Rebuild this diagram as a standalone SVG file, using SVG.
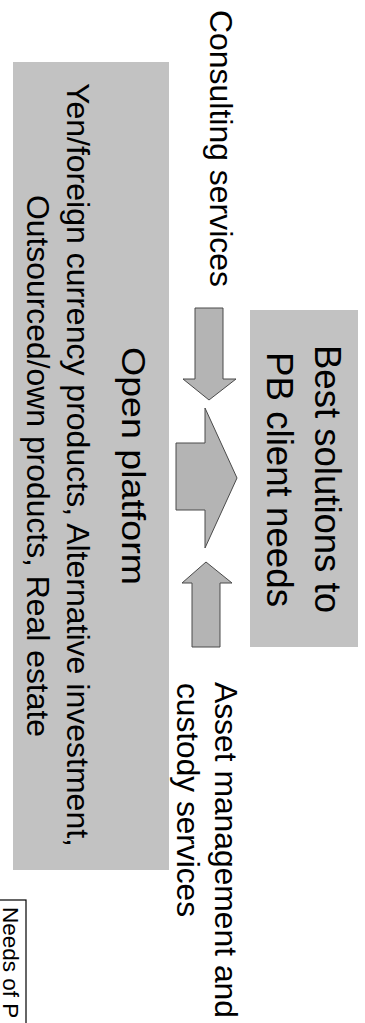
<svg xmlns="http://www.w3.org/2000/svg" width="365" height="1023" viewBox="0 0 365 1023">
  <style>
    .box { fill: #c2c2c2; stroke: none; }
    .arrow { fill: #b4b4b4; stroke: #4a4a4a; stroke-width: 1; stroke-linejoin: miter; }
    .t { font-family: "Liberation Sans", Arial, sans-serif; fill: #000; }
  </style>
  <rect width="365" height="1023" fill="#fff"/>

  <g id="open-platform">
    <rect class="box" x="13" y="62" width="156" height="808"/>
    <text class="t" font-size="34" transform="translate(122,347) rotate(90)" textLength="238" lengthAdjust="spacingAndGlyphs">Open platform</text>
    <text class="t" font-size="32" transform="translate(67,83) rotate(90)" textLength="764" lengthAdjust="spacingAndGlyphs">Yen/foreign currency products, Alternative investment,</text>
    <text class="t" font-size="32" transform="translate(27,195) rotate(90)" textLength="542" lengthAdjust="spacingAndGlyphs">Outsourced/own products, Real estate</text>
  </g>

  <g id="best-solutions">
    <rect class="box" x="250" y="310" width="108" height="337"/>
    <text class="t" font-size="36" transform="translate(315,345) rotate(90)" textLength="268" lengthAdjust="spacingAndGlyphs">Best solutions to</text>
    <text class="t" font-size="36" transform="translate(267,352) rotate(90)" textLength="255" lengthAdjust="spacingAndGlyphs">PB client needs</text>
  </g>

  <g id="consulting">
    <text class="t" font-size="32" transform="translate(210,10) rotate(90)" textLength="277" lengthAdjust="spacingAndGlyphs">Consulting services</text>
  </g>

  <g id="asset-management">
    <text class="t" font-size="32" transform="translate(215,682) rotate(90)" textLength="336" lengthAdjust="spacingAndGlyphs">Asset management and</text>
    <text class="t" font-size="32" transform="translate(177,683) rotate(90)" textLength="234" lengthAdjust="spacingAndGlyphs">custody services</text>
  </g>

  <g id="needs-label">
    <rect x="-5" y="900" width="31" height="140" fill="#fff" stroke="#000" stroke-width="1.2"/>
    <text class="t" font-size="22.5" transform="translate(3,907) rotate(90)">Needs of P</text>
  </g>

  <g id="connectors">
    <polygon class="arrow" points="195,308 223,308 223,379 236,379 209,400 183,379 195,379"/>
    <polygon class="arrow" points="176,443 205,443 205,408 237,478 205,548 205,510 176,510"/>
    <polygon class="arrow" points="192,647 220,647 220,583 232,583 206,562 182,583 192,583"/>
  </g>
</svg>
